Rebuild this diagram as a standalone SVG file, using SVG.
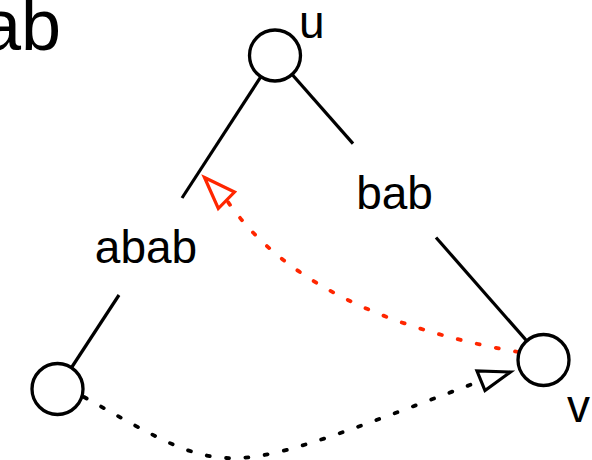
<svg xmlns="http://www.w3.org/2000/svg" width="592" height="460" viewBox="0 0 592 460">
  <style>
    .lbl { font-family: "Liberation Sans", Arial, Helvetica, sans-serif; font-size: 46px; fill: #000; }
    .node { fill: #fff; stroke: #000; stroke-width: 3.3; }
    .edge { stroke: #000; stroke-width: 3.2; fill: none; }
    .dot { fill: none; stroke-width: 3.8; stroke-linecap: round; stroke-dasharray: 3 16.5; }
    .head { fill: #fff; stroke-width: 3.2; stroke-linejoin: miter; }
  </style>
  <rect width="592" height="460" fill="#fff"/>
  <text class="lbl" x="61" y="50" style="font-size:72px" text-anchor="end">ab</text>
  <g id="connectors">
    <g id="edge-u-left">
      <line class="edge" x1="275" y1="55" x2="182" y2="198"/>
      <line class="edge" x1="119" y1="295" x2="57.5" y2="389"/>
      <text class="lbl" x="146" y="263" text-anchor="middle">abab</text>
    </g>
    <g id="edge-u-v">
      <line class="edge" x1="275" y1="55" x2="353" y2="143.6"/>
      <line class="edge" x1="436" y1="237.5" x2="543.5" y2="360"/>
      <text class="lbl" x="394.5" y="209" text-anchor="middle">bab</text>
    </g>
    <g id="arrow-v-to-left-edge">
      <path class="dot" stroke="#ff2600" d="M518,352 Q307,315 228,202"/>
      <polygon class="head" stroke="#ff2600" points="204.5,177.5 234.5,192 218.3,208.5"/>
    </g>
    <g id="arrow-left-to-v">
      <path class="dot" stroke="#000" d="M84,397 C235,481.5 215,480.3 478,382"/>
      <polygon class="head" stroke="#000" points="510.5,372 477,371 485,390.5"/>
    </g>
  </g>
  <g id="node-u">
    <circle class="node" cx="275" cy="55.5" r="25.5"/>
    <text class="lbl" x="299" y="38">u</text>
  </g>
  <g id="node-v">
    <circle class="node" cx="543.5" cy="360" r="25.5"/>
    <text class="lbl" x="567" y="422">v</text>
  </g>
  <g id="node-left">
    <circle class="node" cx="57.5" cy="389" r="25.5"/>
  </g>
</svg>
